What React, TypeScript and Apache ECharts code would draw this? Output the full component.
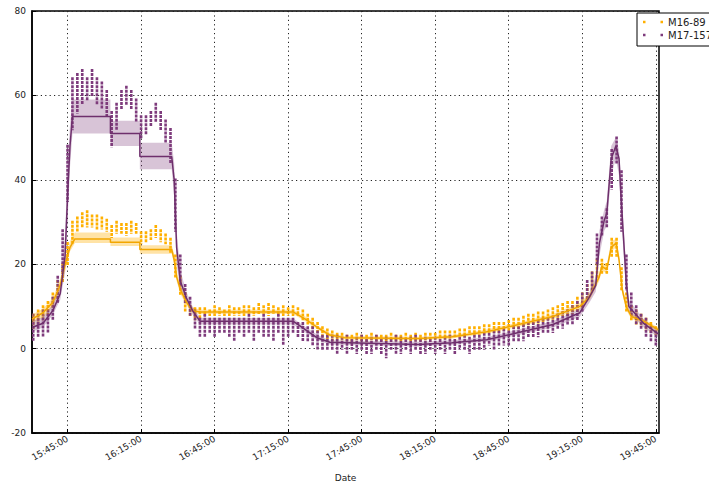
import React, { useEffect, useRef } from "react";
import * as echarts from "echarts";

// x values are minutes after 15:00
const X_MIN = 30.5;
const X_MAX = 286.3;
const TICK_MINUTES = [45, 75, 105, 135, 165, 195, 225, 255, 285];
const TICK_LABELS = ["15:45:00", "16:15:00", "16:45:00", "17:15:00", "17:45:00", "18:15:00", "18:45:00", "19:15:00", "19:45:00"];

// Raw readings, binned every 2 minutes from 15:31 to 19:45: lowest and highest value in each bin
const m16Low = [
  5, 6, 7, 8, 10, 12, 16, 20, 25, 28, 29, 29, 29, 28.5, 28.5, 28,
  26.5, 27.5, 27.5, 27, 27.5, 27.5, 25, 25.5, 26, 26.5, 25.5, 25, 23, 17, 13, 9,
  8, 7, 7.5, 8, 8, 8, 8, 8, 8, 8, 8, 8, 8.5, 8, 8.5, 8.5,
  8, 8.5, 8, 8, 8, 8, 8, 7, 6, 5, 4, 3, 2.5, 2, 2, 2,
  2, 1.5, 2, 2, 1.5, 2, 2, 2, 1.5, 2, 2, 2, 2, 2, 2, 2,
  2, 2, 2.5, 2.5, 2.5, 2.5, 3, 3, 3, 3.5, 3.5, 3.5, 4, 4, 4, 4,
  4.5, 4.5, 5, 5, 5.5, 5.5, 6, 6, 6.5, 7, 7, 7.5, 8, 8, 8.5, 9,
  10, 12, 14, 17, 18, 18, 22, 22, 14, 9, 7, 6, 5.5, 4.5, 4, 3.5,
];
const m16High = [
  8, 9, 10, 11, 13, 16, 20, 25, 30, 31, 32, 32.5, 31.5, 31.5, 31, 30.5,
  29, 30, 29.5, 29.5, 30, 29.5, 27.5, 27.5, 28, 29, 28, 27, 26, 22, 17, 13,
  10, 9.5, 9.5, 9.5, 9, 10, 9.5, 9, 10, 9.5, 9.5, 10, 10, 9.5, 10.5, 10,
  10.5, 10, 9.5, 10, 9.5, 10, 9.5, 9, 8, 7, 6, 5, 4.5, 4, 3.5, 3.5,
  3, 3, 3.5, 3, 3, 3.5, 3, 3, 3, 3.5, 3, 3, 3.5, 3, 3.5, 3,
  3.5, 3.5, 3.5, 4, 4, 4, 4, 4.5, 4.5, 5, 5, 5, 5.5, 5.5, 6, 6,
  6, 6.5, 7, 7, 7.5, 8, 8, 8.5, 8.5, 9, 9.5, 10, 10.5, 11, 11, 12,
  13, 15, 18, 21, 21, 20, 26, 26, 19, 13, 10, 9, 8, 7, 6, 5,
];
const m17Low = [
  2, 3, 3, 4, 7, 11, 18, 35, 52, 56, 58, 59, 60, 58, 57, 55,
  48, 52, 57, 58, 57, 54, 50, 51, 53, 54, 52, 49, 44, 28, 15, 11,
  8, 5, 3, 3, 4, 3, 4, 4, 3, 2, 4, 3, 4, 2, 4, 3,
  3, 2, 4, 1, 3, 4, 3, 2, 2, 1, 0, 0, 0, 0, -1, 0,
  -1, 0, -1, 0, -1, -1, 0, -1, -2, 0, -1, -1, 0, -1, 0, -1,
  -1, 0, -1, 0, -1, 0, -1, 0, 0, -1, 0, 0, 0, 1, 0, 1,
  1, 1, 2, 2, 2, 3, 3, 3, 4, 4, 4, 5, 5, 6, 6, 7,
  9, 12, 14, 20, 27, 29, 38, 44, 28, 14, 8, 6, 5, 3, 2, 1,
];
const m17High = [
  8, 8, 9, 9, 12, 17, 28, 48, 64, 65, 66, 64, 66, 64, 63, 61,
  56, 58, 61, 62, 61, 59, 55, 55, 56, 58, 56, 54, 52, 40, 22, 15,
  12, 9, 7, 8, 7, 7, 7, 7, 7, 7, 7, 7, 8, 7, 7, 8,
  7, 7, 8, 7, 7, 7, 6, 6, 5, 5, 4, 3, 3, 3, 3, 2.5,
  3, 2, 2.5, 3, 2, 2.5, 3, 2, 2.5, 2, 3, 2.5, 2, 2.5, 3, 2,
  2.5, 2, 2.5, 2, 2.5, 3, 2, 2.5, 3, 2.5, 3, 3, 3.5, 3.5, 4, 4,
  4.5, 4, 5, 5, 5.5, 6, 6, 6.5, 7, 7, 7.5, 8, 8.5, 9, 10, 11,
  13, 16, 18, 27, 31, 33, 47, 50, 42, 22, 13, 10, 8, 7, 5, 4,
];
const sampleMinutes = m16Low.map((_, i) => 31 + 2 * i);

// Rolling median with its spread band
const m16BandMinutes = [30.5, 35, 39, 42, 44, 46, 48, 62.5, 62.5, 74.5, 74.5, 87.5, 88.5, 89.5, 91, 93.5, 96, 99, 137, 142, 147, 152, 158, 188, 202, 216, 229, 243, 254, 258, 261.9, 263, 265, 266.8, 268.8, 270, 271.3, 272.9, 275, 280, 286];
const m16Median = [7, 8.5, 11, 15, 20, 24, 26, 26, 25.2, 25.2, 23.5, 23.5, 21, 17, 14, 11, 9, 8.7, 8.7, 7, 5, 3.2, 2.6, 2.4, 2.8, 4, 5.7, 7.6, 10, 12.3, 17, 19.5, 18.7, 24, 25, 21, 14, 10, 7.6, 6.5, 4.5];
const m16BandLow = [6, 7.5, 10, 14, 18.5, 23, 25, 25, 24.3, 24.3, 22.5, 22.5, 20, 16, 13, 10.3, 8.5, 8.2, 8.2, 6.5, 4.5, 2.8, 2.2, 2, 2.4, 3.6, 5.2, 7.1, 9.3, 11.5, 16, 18.5, 17.8, 23, 24, 20, 13, 9.2, 7, 6, 4];
const m16BandHigh = [8, 9.5, 12, 16.5, 21.5, 25.5, 27.5, 27.5, 26.3, 26.3, 24.5, 24.5, 22.5, 18.5, 15, 11.8, 9.8, 9.2, 9.2, 7.6, 5.5, 3.7, 3, 2.8, 3.2, 4.5, 6.2, 8.2, 10.8, 13.2, 18, 20.5, 19.8, 25.5, 26, 22.5, 15, 11, 8.3, 7, 5];

const m17BandMinutes = [30.5, 35, 39, 42, 44, 45, 46, 47, 62.5, 62.5, 74.5, 74.5, 87.5, 88.5, 89.5, 91, 93.5, 96, 99, 137, 142, 147, 152, 188, 202, 216, 229, 243, 254, 258, 260.5, 262, 264, 265, 266.8, 268.7, 270, 270.8, 272.9, 274, 280, 286];
const m17Median = [5, 6, 9, 13, 22, 36, 48, 55, 55, 51, 51, 45.5, 45.5, 40, 24, 16, 12, 9, 6.5, 6.5, 4.5, 2.5, 1.5, 1, 1.4, 2.1, 3.8, 5.7, 8.5, 12.3, 15, 25, 30.5, 32, 45, 48, 45, 36, 16, 10, 6, 3.5];
const m17BandLow = [4, 5, 8, 11.5, 18, 30, 43, 51, 51, 48, 48, 42.5, 42.5, 36, 20, 14, 11, 8, 5.7, 5.7, 3.8, 2, 1, 0.5, 0.9, 1.6, 3.2, 5, 7.5, 11, 13.5, 22, 28, 29, 41, 45, 41, 32, 13, 8.5, 5, 2.7];
const m17BandHigh = [6.5, 7.5, 10.5, 15, 27, 43, 53, 59, 59, 54, 54, 48.8, 48.8, 44, 28, 18.5, 13.5, 10, 7.3, 7.2, 5.2, 3.2, 2, 1.6, 2, 2.7, 4.5, 6.5, 9.5, 13.5, 17, 28, 33, 35, 48, 50, 47, 40, 19, 11.5, 7, 4.3];

const ORANGE = "#FFB000";
const PURPLE = "#7E3B7C";
const FONT = "DejaVu Sans";
const DOT_PAIR = "path://M0,0h2.5v2.5h-2.5z M17.5,0h2.5v2.5h-2.5z";

export default function App() {
  const ref = useRef<HTMLDivElement>(null);

  useEffect(() => {
    document.body.style.margin = "0";
    const chart = echarts.init(ref.current!, null, { renderer: "svg" });

    const streakRows = (lo: number[], hi: number[]) => lo.map((v, i) => [sampleMinutes[i], v, hi[i]]);
    const streaks = (color: string) => (_params: any, api: any) => {
      const x = api.value(0);
      const top = api.coord([x, api.value(2)]);
      const bot = api.coord([x, api.value(1)]);
      return {
        type: "line",
        shape: { x1: top[0], y1: top[1] - 1.2, x2: bot[0], y2: bot[1] + 1.2 },
        style: { stroke: color, lineWidth: 2.6, lineDash: [3, 1] },
      };
    };
    const band = (times: number[], lo: number[], hi: number[], fill: string) => (params: any, api: any) => {
      if (params.dataIndex !== 0) return null;
      const upper = times.map((t, i) => api.coord([t, hi[i]]));
      const lower = times.map((t, i) => api.coord([t, lo[i]])).reverse();
      return { type: "polygon", shape: { points: upper.concat(lower) }, style: { fill } };
    };
    const bandRows = (times: number[], lo: number[], hi: number[]) => times.map((t, i) => [t, lo[i], hi[i]]);
    const dotted = { type: [1.2, 3.2] as any, color: "#222", width: 1 };

    chart.setOption({
      animation: false,
      grid: { left: 32, right: 50, top: 11, bottom: 52, show: true, borderColor: "#000", borderWidth: 1.5, outerBoundsMode: "none" },
      legend: {
        left: 637,
        top: 13,
        orient: "vertical",
        itemWidth: 20,
        itemHeight: 2.5,
        itemGap: 1,
        padding: [3, 8, 5, 6],
        borderColor: "#000",
        borderWidth: 1,
        borderRadius: 0,
        backgroundColor: "#fff",
        selectedMode: false,
        textStyle: { fontFamily: FONT, fontSize: 10, color: "#222", lineHeight: 12 },
        data: [
          { name: "M16-89", icon: DOT_PAIR },
          { name: "M17-157", icon: DOT_PAIR },
        ],
      },
      xAxis: {
        type: "value",
        min: X_MIN,
        max: X_MAX,
        name: "Date",
        nameLocation: "middle",
        nameGap: 40,
        nameTextStyle: { fontFamily: FONT, fontSize: 9, color: "#222" },
        axisLine: { show: true, onZero: false, lineStyle: { color: "#000", width: 1.5 } },
        axisTick: { show: true, inside: true, length: 4, customValues: TICK_MINUTES, lineStyle: { color: "#000" } },
        axisLabel: {
          customValues: TICK_MINUTES,
          rotate: 30,
          margin: 5,
          fontFamily: FONT,
          fontSize: 9,
          color: "#222",
          formatter: (v: number) => TICK_LABELS[TICK_MINUTES.indexOf(Math.round(v))] ?? "",
        },
        splitLine: { show: true, lineStyle: dotted },
      },
      yAxis: {
        type: "value",
        min: -20,
        max: 80,
        interval: 20,
        axisLine: { show: true, onZero: false, lineStyle: { color: "#000", width: 1.5 } },
        axisTick: { show: true, inside: true, length: 4, lineStyle: { color: "#000" } },
        axisLabel: { margin: 6, fontFamily: FONT, fontSize: 9, color: "#222" },
        splitLine: { show: true, lineStyle: dotted },
      },
      series: [
        {
          name: "M16-89",
          type: "custom",
          clip: true,
          itemStyle: { color: ORANGE },
          encode: { x: 0, y: [1, 2] },
          data: streakRows(m16Low, m16High),
          renderItem: streaks(ORANGE),
        },
        {
          name: "M17-157",
          type: "custom",
          clip: true,
          itemStyle: { color: PURPLE },
          encode: { x: 0, y: [1, 2] },
          data: streakRows(m17Low, m17High),
          renderItem: streaks(PURPLE),
        },
        {
          name: "M16-89 band",
          type: "custom",
          clip: true,
          encode: { x: 0, y: [1, 2] },
          data: bandRows(m16BandMinutes, m16BandLow, m16BandHigh),
          renderItem: band(m16BandMinutes, m16BandLow, m16BandHigh, "rgba(255,176,0,0.35)"),
        },
        {
          name: "M17-157 band",
          type: "custom",
          clip: true,
          encode: { x: 0, y: [1, 2] },
          data: bandRows(m17BandMinutes, m17BandLow, m17BandHigh),
          renderItem: band(m17BandMinutes, m17BandLow, m17BandHigh, "rgba(126,59,124,0.3)"),
        },
        {
          name: "M16-89 median",
          type: "line",
          showSymbol: false,
          data: m16BandMinutes.map((t, i) => [t, m16Median[i]]),
          lineStyle: { color: "#F2A600", width: 1.5 },
        },
        {
          name: "M17-157 median",
          type: "line",
          showSymbol: false,
          data: m17BandMinutes.map((t, i) => [t, m17Median[i]]),
          lineStyle: { color: "#6E2F6C", width: 1.5 },
        },
      ],
    });

    return () => chart.dispose();
  }, []);

  return <div ref={ref} style={{ width: 709, height: 485 }} />;
}
